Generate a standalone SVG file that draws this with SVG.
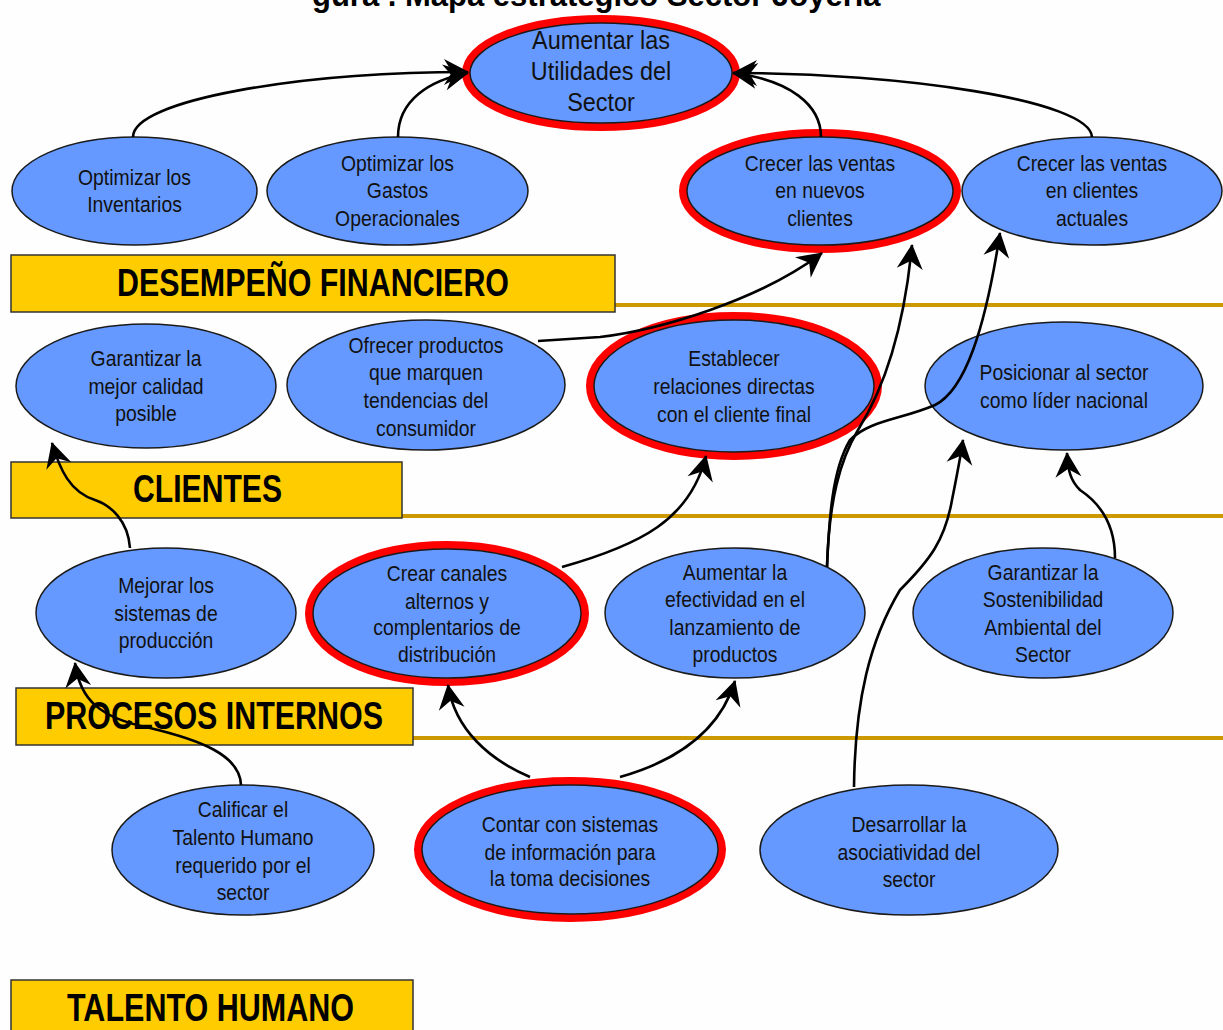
<svg xmlns="http://www.w3.org/2000/svg" width="1223" height="1030" viewBox="0 0 1223 1030">
  <style>
    .n { fill:#6699ff; stroke:#1a1a1a; stroke-width:1.5; }
    .ring { fill:none; stroke:#ff0000; stroke-width:8; }
    .t { font-family:"Liberation Sans", Arial, sans-serif; font-size:22px; fill:#111; text-anchor:middle; }
    .tb { font-family:"Liberation Sans", Arial, sans-serif; font-size:26px; fill:#111; text-anchor:middle; }
    .band { fill:#ffcc00; stroke:#333; stroke-width:1.5; }
    .bt { font-family:"Liberation Sans", Arial, sans-serif; font-weight:bold; font-size:38px; fill:#000; }
    .gold { stroke:#cc9900; stroke-width:4; }
    .c { fill:none; stroke:#000; stroke-width:2.6; marker-end:url(#ah); }
    .title { font-family:"Liberation Sans", Arial, sans-serif; font-weight:bold; font-size:31px; fill:#000; }
  </style>
  <defs>
    <marker id="ah" markerUnits="userSpaceOnUse" markerWidth="32" markerHeight="32" viewBox="-28 -16 32 32" refX="0" refY="0" orient="auto">
      <path d="M1,0 L-24,-13 L-16,0 L-24,13 Z" fill="#000"/>
    </marker>
  </defs>

  <rect width="1223" height="1030" fill="#fefefe"/>

  <!-- heading, clipped by the top edge -->
  <text class="title" x="312" y="6">gura . Mapa estratégico Sector Joyería</text>

  <!-- perspective bands -->
  <g id="bands">
    <line class="gold" x1="615" y1="305" x2="1223" y2="305"/>
    <line class="gold" x1="402" y1="516" x2="1223" y2="516"/>
    <line class="gold" x1="413" y1="738" x2="1223" y2="738"/>
    <g id="band-financiero">
      <rect class="band" x="11" y="255" width="604" height="57"/>
      <text class="bt" x="117" y="296" textLength="392" lengthAdjust="spacingAndGlyphs">DESEMPEÑO FINANCIERO</text>
    </g>
    <g id="band-clientes">
      <rect class="band" x="11" y="462" width="391" height="56"/>
      <text class="bt" x="133" y="502" textLength="149" lengthAdjust="spacingAndGlyphs">CLIENTES</text>
    </g>
    <g id="band-procesos">
      <rect class="band" x="16" y="688" width="397" height="57"/>
      <text class="bt" x="45" y="729" textLength="338" lengthAdjust="spacingAndGlyphs">PROCESOS INTERNOS</text>
    </g>
    <g id="band-talento">
      <rect class="band" x="11" y="980" width="402" height="60"/>
      <text class="bt" x="67" y="1021" textLength="287" lengthAdjust="spacingAndGlyphs">TALENTO HUMANO</text>
    </g>
  </g>

  <!-- objectives -->
  <g id="n-utilidades" transform="translate(601,73)">
    <ellipse class="ring" rx="135" ry="54"/>
    <ellipse class="n" rx="131" ry="50"/>
    <g transform="scale(0.9,1)">
      <text class="tb" y="-24">Aumentar las</text>
      <text class="tb" y="7">Utilidades del</text>
      <text class="tb" y="38">Sector</text>
    </g>
  </g>

  <g id="n-inventarios" transform="translate(134.5,191)">
    <ellipse class="n" rx="122.5" ry="54"/>
    <g transform="scale(0.88,1)">
      <text class="t" y="-6">Optimizar los</text>
      <text class="t" y="21">Inventarios</text>
    </g>
  </g>

  <g id="n-gastos" transform="translate(397.5,191)">
    <ellipse class="n" rx="130.5" ry="54"/>
    <g transform="scale(0.88,1)">
      <text class="t" y="-20">Optimizar los</text>
      <text class="t" y="7">Gastos</text>
      <text class="t" y="35">Operacionales</text>
    </g>
  </g>

  <g id="n-nuevos" transform="translate(820,191)">
    <ellipse class="ring" rx="137" ry="58"/>
    <ellipse class="n" rx="133" ry="54"/>
    <g transform="scale(0.88,1)">
      <text class="t" y="-20">Crecer las ventas</text>
      <text class="t" y="7">en nuevos</text>
      <text class="t" y="35">clientes</text>
    </g>
  </g>

  <g id="n-actuales" transform="translate(1092,191)">
    <ellipse class="n" rx="130" ry="54"/>
    <g transform="scale(0.88,1)">
      <text class="t" y="-20">Crecer las ventas</text>
      <text class="t" y="7">en clientes</text>
      <text class="t" y="35">actuales</text>
    </g>
  </g>

  <g id="n-calidad" transform="translate(146,386)">
    <ellipse class="n" rx="130" ry="62"/>
    <g transform="scale(0.88,1)">
      <text class="t" y="-20">Garantizar la</text>
      <text class="t" y="8">mejor calidad</text>
      <text class="t" y="35">posible</text>
    </g>
  </g>

  <g id="n-tendencias" transform="translate(426,385)">
    <ellipse class="n" rx="139" ry="65"/>
    <g transform="scale(0.88,1)">
      <text class="t" y="-32">Ofrecer productos</text>
      <text class="t" y="-5">que marquen</text>
      <text class="t" y="23">tendencias del</text>
      <text class="t" y="51">consumidor</text>
    </g>
  </g>

  <g id="n-relaciones" transform="translate(734,386)">
    <ellipse class="ring" rx="144" ry="70"/>
    <ellipse class="n" rx="140" ry="66"/>
    <g transform="scale(0.88,1)">
      <text class="t" y="-20">Establecer</text>
      <text class="t" y="8">relaciones directas</text>
      <text class="t" y="36">con el cliente final</text>
    </g>
  </g>

  <g id="n-lider" transform="translate(1064,386)">
    <ellipse class="n" rx="139" ry="64"/>
    <g transform="scale(0.88,1)">
      <text class="t" y="-6">Posicionar al sector</text>
      <text class="t" y="22">como líder nacional</text>
    </g>
  </g>

  <g id="n-produccion" transform="translate(166,613)">
    <ellipse class="n" rx="130" ry="65"/>
    <g transform="scale(0.88,1)">
      <text class="t" y="-20">Mejorar los</text>
      <text class="t" y="8">sistemas de</text>
      <text class="t" y="35">producción</text>
    </g>
  </g>

  <g id="n-canales" transform="translate(447,613.5)">
    <ellipse class="ring" rx="138" ry="68.5"/>
    <ellipse class="n" rx="134" ry="64.5"/>
    <g transform="scale(0.88,1)">
      <text class="t" y="-33">Crear canales</text>
      <text class="t" y="-5">alternos y</text>
      <text class="t" y="22">complentarios de</text>
      <text class="t" y="49">distribución</text>
    </g>
  </g>

  <g id="n-lanzamiento" transform="translate(735,613)">
    <ellipse class="n" rx="130" ry="65"/>
    <g transform="scale(0.88,1)">
      <text class="t" y="-33">Aumentar la</text>
      <text class="t" y="-6">efectividad en el</text>
      <text class="t" y="22">lanzamiento de</text>
      <text class="t" y="49">productos</text>
    </g>
  </g>

  <g id="n-sostenibilidad" transform="translate(1043,613)">
    <ellipse class="n" rx="130" ry="65"/>
    <g transform="scale(0.88,1)">
      <text class="t" y="-33">Garantizar la</text>
      <text class="t" y="-6">Sostenibilidad</text>
      <text class="t" y="22">Ambiental del</text>
      <text class="t" y="49">Sector</text>
    </g>
  </g>

  <g id="n-talento" transform="translate(243,850)">
    <ellipse class="n" rx="131" ry="65"/>
    <g transform="scale(0.88,1)">
      <text class="t" y="-33">Calificar el</text>
      <text class="t" y="-5">Talento Humano</text>
      <text class="t" y="23">requerido por el</text>
      <text class="t" y="50">sector</text>
    </g>
  </g>

  <g id="n-informacion" transform="translate(570,849.5)">
    <ellipse class="ring" rx="152" ry="68.5"/>
    <ellipse class="n" rx="148" ry="64.5"/>
    <g transform="scale(0.88,1)">
      <text class="t" y="-18">Contar con sistemas</text>
      <text class="t" y="10">de información para</text>
      <text class="t" y="37">la toma decisiones</text>
    </g>
  </g>

  <g id="n-asociatividad" transform="translate(909,850)">
    <ellipse class="n" rx="149" ry="65"/>
    <g transform="scale(0.88,1)">
      <text class="t" y="-18">Desarrollar la</text>
      <text class="t" y="10">asociatividad del</text>
      <text class="t" y="37">sector</text>
    </g>
  </g>

  <!-- cause-effect links -->
  <g id="connectors">
    <path class="c" d="M133,137 C133,100 300,72 468,72"/>
    <path class="c" d="M398,137 C398,100 430,80 468,73"/>
    <path class="c" d="M821,137 C821,105 790,80 733,73"/>
    <path class="c" d="M1092,137 C1090,100 900,73 733,73"/>
    <path class="c" d="M538,341 L600,337 C660,330 760,300 822,253"/>
    <path class="c" d="M562,567 C640,545 690,520 706,456"/>
    <path class="c" d="M827,567 C829,500 840,460 858,430 C880,395 903,340 912,245"/>
    <path class="c" d="M827,567 C829,520 832,470 850,440 C870,420 900,420 935,405 C965,390 985,330 1000,233"/>
    <path class="c" d="M854,787 C855,700 870,640 900,590 C930,560 945,540 952,500 C958,470 960,460 963,440"/>
    <path class="c" d="M1115,558 C1115,520 1095,500 1080,490 C1070,480 1068,470 1067,453"/>
    <path class="c" d="M130,548 C128,520 110,505 95,500 C70,492 60,470 52,443"/>
    <path class="c" d="M241,785 C240,755 200,740 150,728 C100,718 80,700 75,663"/>
    <path class="c" d="M530,777 C490,760 455,730 448,685"/>
    <path class="c" d="M620,777 C680,760 720,730 735,681"/>
  </g>
</svg>
